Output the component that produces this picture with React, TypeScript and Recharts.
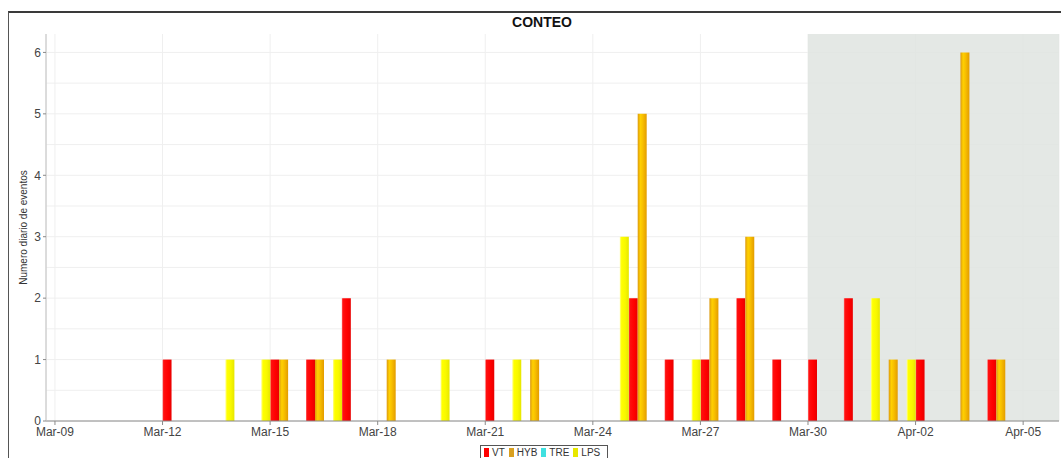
import React from 'react';
import { BarChart, Bar, XAxis, YAxis, CartesianGrid, ReferenceArea } from 'recharts';

const days = [
  'Mar-09', 'Mar-10', 'Mar-11', 'Mar-12', 'Mar-13', 'Mar-14', 'Mar-15', 'Mar-16', 'Mar-17', 'Mar-18',
  'Mar-19', 'Mar-20', 'Mar-21', 'Mar-22', 'Mar-23', 'Mar-24', 'Mar-25', 'Mar-26', 'Mar-27', 'Mar-28',
  'Mar-29', 'Mar-30', 'Mar-31', 'Apr-01', 'Apr-02', 'Apr-03', 'Apr-04', 'Apr-05',
];
const tickLabels = ['Mar-09', 'Mar-12', 'Mar-15', 'Mar-18', 'Mar-21', 'Mar-24', 'Mar-27', 'Mar-30', 'Apr-02', 'Apr-05'];
const yTicks = [0, 1, 2, 3, 4, 5, 6];
const yGridValues = [0, 0.5, 1, 1.5, 2, 2.5, 3, 3.5, 4, 4.5, 5, 5.5, 6];

const vtValues = [0, 0, 0, 1, 0, 0, 1, 1, 2, 0, 0, 0, 1, 0, 0, 0, 2, 1, 1, 2, 1, 1, 2, 0, 1, 0, 1, 0];
const hybValues = [0, 0, 0, 0, 0, 0, 1, 1, 0, 1, 0, 0, 0, 1, 0, 0, 5, 0, 2, 3, 0, 0, 0, 1, 0, 6, 1, 0];
const treValues = [0, 0, 0, 0, 0, 0, 0, 0, 0, 0, 0, 0, 0, 0, 0, 0, 0, 0, 0, 0, 0, 0, 0, 0, 0, 0, 0, 0];
const lpsValues = [0, 0, 0, 0, 1, 1, 0, 1, 0, 0, 1, 0, 1, 0, 0, 3, 0, 1, 0, 0, 0, 0, 2, 1, 0, 0, 0, 0];

const shadedFrom = 'Mar-30';
const title = 'CONTEO';
const yLabel = 'Numero diario de eventos';

const series = [
  { key: 'VT', values: vtValues, legend: '#ff0000', stops: [['0%', '#ff7a7a'], ['12%', '#ff1010'], ['60%', '#ff0000'], ['100%', '#e80000']] },
  { key: 'HYB', values: hybValues, legend: '#d9a020', stops: [['0%', '#dc9a10'], ['30%', '#ffd000'], ['55%', '#f8c000'], ['100%', '#e39c00']] },
  { key: 'TRE', values: treValues, legend: '#40e0e0', stops: [['0%', '#80ffff'], ['40%', '#40e0e0'], ['100%', '#30c8c8']] },
  { key: 'LPS', values: lpsValues, legend: '#e8e800', stops: [['0%', '#ffff90'], ['20%', '#ffff00'], ['60%', '#f8f800'], ['100%', '#e6e600']] },
];

const data = days.map((d, i) => {
  const row: Record<string, number | string> = { x: i + 0.5, day: d };
  series.forEach((s) => {
    row[s.key] = s.values[i];
  });
  return row;
});

const tickIdx = tickLabels.map((l) => days.indexOf(l));
const xDomain: [number, number] = [-0.25, days.length];
const FONT = '"Liberation Sans", Arial, sans-serif';

const YLabel = (props: any) => {
  const vb = props.viewBox || {};
  const cx = (vb.x || 0) + 23;
  const cy = (vb.y || 0) + (vb.height || 0) / 2;
  return (
    <text
      x={cx}
      y={cy}
      transform={`rotate(-90, ${cx}, ${cy})`}
      textAnchor="middle"
      dominantBaseline="central"
      fontSize={10}
      fontFamily={FONT}
      fill="#333"
    >
      {yLabel}
    </text>
  );
};

export default function App() {
  return (
    <div style={{ position: 'fixed', left: 0, top: 0, width: 1061, height: 458, background: '#fff', overflow: 'hidden' }}>
      <div
        style={{
          position: 'absolute',
          left: 8,
          top: 11,
          width: 1100,
          height: 500,
          borderTop: '2px solid #3a3a3a',
          borderLeft: '1px solid #555',
        }}
      />
      <div style={{ position: 'absolute', left: 0, top: 0 }}>
        <BarChart
          width={1061}
          height={458}
          data={data}
          margin={{ top: 34, right: 2, bottom: 0, left: 0 }}
          barGap={0}
          barCategoryGap={0}
        >
          <defs>
            {series.map((s) => (
              <linearGradient key={s.key} id={`grad-${s.key}`} x1="0" y1="0" x2="1" y2="0">
                {s.stops.map(([o, c]) => (
                  <stop key={o} offset={o} stopColor={c} />
                ))}
              </linearGradient>
            ))}
          </defs>
          <ReferenceArea
            x1={days.indexOf(shadedFrom)}
            x2={days.length}
            fill="#dfe4e1"
            fillOpacity={0.85}
            stroke="none"
            ifOverflow="hidden"
          />
          <CartesianGrid stroke="#efefef" horizontalValues={yGridValues} />
          <XAxis
            dataKey="x"
            type="number"
            domain={xDomain}
            allowDataOverflow
            ticks={tickIdx}
            interval={0}
            tickFormatter={(v: number) => days[v]}
            height={37}
            axisLine={{ stroke: '#8a8a8a' }}
            tickLine={{ stroke: '#8a8a8a' }}
            tickSize={4}
            tick={{ fill: '#444', fontSize: 12, fontFamily: FONT }}
          />
          <XAxis
            xAxisId="top"
            orientation="top"
            dataKey="x"
            type="number"
            domain={xDomain}
            allowDataOverflow
            height={0}
            tick={false}
            tickLine={false}
            axisLine={{ stroke: '#d4d4d4' }}
          />
          <YAxis
            type="number"
            domain={[0, 6.3]}
            allowDataOverflow
            ticks={yTicks}
            interval={0}
            width={46}
            axisLine={{ stroke: '#c0c0c0' }}
            tickLine={{ stroke: '#8a8a8a' }}
            tickSize={3}
            tick={{ fill: '#444', fontSize: 12, fontFamily: FONT }}
            label={<YLabel />}
          />
          {series.map((s) => (
            <Bar key={s.key} dataKey={s.key} fill={`url(#grad-${s.key})`} isAnimationActive={false} />
          ))}
        </BarChart>
      </div>
      <div
        style={{
          position: 'absolute',
          left: 0,
          width: 1084,
          top: 14,
          textAlign: 'center',
          fontFamily: FONT,
          fontWeight: 'bold',
          fontSize: 14,
          lineHeight: '16px',
          color: '#111',
        }}
      >
        {title}
      </div>
      <div
        style={{
          position: 'absolute',
          left: 480,
          top: 445,
          height: 14,
          border: '1px solid #555',
          background: '#fff',
          display: 'flex',
          alignItems: 'center',
          padding: '0 3px',
          fontFamily: FONT,
          fontSize: 10,
          color: '#333',
          boxSizing: 'border-box',
        }}
      >
        {series.map((s) => (
          <span key={s.key} style={{ display: 'flex', alignItems: 'center', marginRight: 4 }}>
            <span style={{ display: 'inline-block', width: 5, height: 9, background: s.legend, marginRight: 3 }} />
            {s.key}
          </span>
        ))}
      </div>
    </div>
  );
}
